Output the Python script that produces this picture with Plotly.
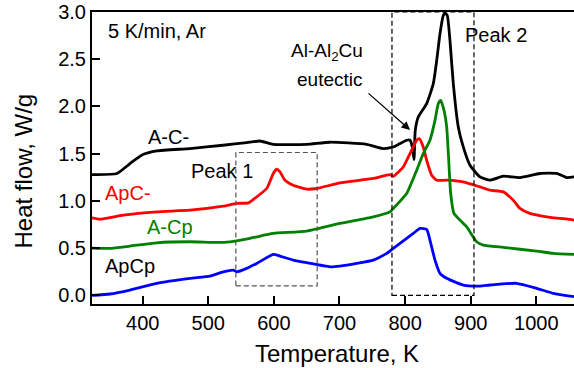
import plotly.graph_objects as go

# DSC traces, heat flow (W/g) vs temperature (K)
t_ac = [322.7, 360.8, 380.6, 400.4, 421.3, 472.1, 522.4, 558.5, 578.8, 599.1, 650.0, 685.5,
        741.4, 766.3, 782.0, 792.2, 802.4, 807.5, 811.0, 813.6, 815.5, 820.1, 832.9, 843.0,
        848.2, 853.2, 858.2, 860.8, 864.3, 868.4, 873.5, 881.1, 888.7, 898.9, 914.2, 929.4,
        949.7, 975.1, 1005.6, 1031.0, 1046.3, 1058.0]
hf_ac = [1.279, 1.290, 1.395, 1.490, 1.529, 1.554, 1.589, 1.617, 1.634, 1.599, 1.599, 1.621,
         1.599, 1.554, 1.571, 1.607, 1.642, 1.642, 1.571, 1.438, 1.747, 1.888, 2.030, 2.241,
         2.487, 2.770, 2.963, 2.987, 2.963, 2.699, 2.241, 1.782, 1.571, 1.377, 1.254, 1.219,
         1.261, 1.247, 1.290, 1.290, 1.247, 1.254]

t_apc = [322.7, 334.9, 370.4, 421.3, 472.1, 522.9, 543.3, 561.0, 568.6, 589.0, 599.1, 604.3,
         609.3, 616.9, 629.6, 650.0, 665.2, 700.7, 751.5, 777.0, 782.0, 797.2, 807.5, 817.7,
         821.6, 827.7, 832.9, 840.5, 848.2, 863.4, 888.7, 914.2, 929.4, 949.7, 964.9, 975.1,
         990.3, 1015.8, 1051.3, 1058.0]
hf_apc = [0.820, 0.807, 0.849, 0.884, 0.902, 0.944, 0.973, 0.979, 1.015, 1.131, 1.290, 1.335,
          1.307, 1.219, 1.166, 1.124, 1.131, 1.190, 1.237, 1.279, 1.261, 1.359, 1.501, 1.642,
          1.660, 1.571, 1.430, 1.272, 1.219, 1.219, 1.201, 1.148, 1.113, 1.095, 1.007, 0.920,
          0.867, 0.831, 0.803, 0.796]

t_acp = [322.7, 350.1, 380.6, 421.3, 472.1, 512.8, 533.1, 563.6, 573.8, 599.1, 650.0, 700.7,
         751.5, 777.0, 782.0, 802.4, 817.7, 827.7, 837.9, 845.6, 850.6, 854.3, 859.3, 863.4,
         866.5, 869.5, 874.5, 883.7, 893.9, 909.1, 919.2, 949.7, 1000.6, 1025.9, 1058.0]
hf_acp = [0.500, 0.497, 0.521, 0.556, 0.567, 0.560, 0.567, 0.603, 0.619, 0.655, 0.680, 0.761,
          0.831, 0.884, 0.920, 1.078, 1.325, 1.501, 1.642, 1.853, 2.030, 2.064, 1.959, 1.782,
          1.430, 1.078, 0.867, 0.796, 0.725, 0.567, 0.532, 0.507, 0.468, 0.444, 0.433]

t_apcp = [322.7, 350.1, 380.6, 421.3, 472.1, 502.6, 522.9, 538.1, 543.3, 558.5, 573.8, 599.1,
          609.3, 629.6, 650.0, 685.5, 700.7, 726.2, 751.5, 771.9, 782.0, 802.4, 812.5, 822.7,
          832.9, 837.9, 845.6, 853.2, 863.4, 888.7, 914.2, 929.4, 970.0, 1000.6, 1025.9, 1058.0]
hf_apcp = [0.000, 0.014, 0.056, 0.127, 0.180, 0.204, 0.249, 0.267, 0.249, 0.285, 0.338, 0.433,
           0.415, 0.373, 0.345, 0.302, 0.310, 0.338, 0.373, 0.444, 0.497, 0.603, 0.655, 0.708,
           0.698, 0.585, 0.373, 0.233, 0.180, 0.109, 0.098, 0.109, 0.127, 0.074, 0.021, -0.015]

x_ticks = [400, 500, 600, 700, 800, 900, 1000]
y_ticks = [0.0, 0.5, 1.0, 1.5, 2.0, 2.5, 3.0]

# Regions marked on the plot: (T_min, T_max, HF_min, HF_max)
peak1_box = (542, 666, 0.10, 1.512)
peak2_box = (780, 905, 0.0, 3.0)

FONT = "Liberation Sans, Arial, sans-serif"

fig = go.Figure()
series = [
    (t_ac, hf_ac, "black"),
    (t_apc, hf_apc, "#ff0000"),
    (t_acp, hf_acp, "#008000"),
    (t_apcp, hf_apcp, "#0000ff"),
]
for t, hf, col in series:
    fig.add_trace(go.Scatter(x=t, y=hf, mode="lines",
                             line=dict(color=col, width=2.8, shape="spline", smoothing=0.5),
                             showlegend=False))

fig.add_shape(type="rect", xref="x", yref="y",
              x0=peak1_box[0], x1=peak1_box[1], y0=peak1_box[2], y1=peak1_box[3],
              line=dict(color="#555555", width=1.2, dash="5px,3px"))
fig.add_shape(type="rect", xref="x", yref="y",
              x0=peak2_box[0], x1=peak2_box[1], y0=peak2_box[2], y1=peak2_box[3],
              line=dict(color="black", width=1.2, dash="5px,3px"))


def label(text, x, y, color="black", size=20):
    fig.add_annotation(text=text, xref="paper", yref="paper", x=x, y=y,
                       xanchor="left", yanchor="middle", showarrow=False,
                       font=dict(family=FONT, size=size, color=color))


label("5 K/min, Ar", 0.029, 0.935)
label("Peak 2", 0.770, 0.921)
label("A-C-", 0.113, 0.573)
label("Peak 1", 0.201, 0.4565)
label("ApC-", 0.023, 0.379, color="#ff0000")
label("A-Cp", 0.109, 0.265, color="#008000")
label("ApCp", 0.023, 0.130)

fig.add_annotation(text="Al-Al<sub>2</sub>Cu", xref="paper", yref="paper",
                   x=(327 - 92) / 482, y=(304 - 51.7) / 292, xanchor="center",
                   yanchor="middle", showarrow=False,
                   font=dict(family=FONT, size=19, color="black"))
fig.add_annotation(text="eutectic", xref="paper", yref="paper",
                   x=(329 - 92) / 482, y=(304 - 79.3) / 292, xanchor="center",
                   yanchor="middle", showarrow=False,
                   font=dict(family=FONT, size=19, color="black"))
# arrow toward the eutectic dip on A-C-
fig.add_annotation(text="", x=807.5, y=1.75, xref="x", yref="y", showarrow=True,
                   ax=-43, ay=-38, arrowhead=2, arrowsize=1.3, arrowwidth=1.3,
                   arrowcolor="black")

# axis titles
fig.add_annotation(text="Heat flow, W/g", xref="paper", yref="paper",
                   x=(22.5 - 92) / 482, y=(304 - 171) / 292, textangle=-90,
                   xanchor="center", yanchor="middle", showarrow=False,
                   font=dict(family=FONT, size=24, color="black"))
fig.add_annotation(text="Temperature, K", xref="paper", yref="paper",
                   x=(336.7 - 92) / 482, y=(304 - 353) / 292,
                   xanchor="center", yanchor="middle", showarrow=False,
                   font=dict(family=FONT, size=24, color="black"))

fig.update_layout(
    width=574, height=368,
    margin=dict(l=92, r=0, t=12, b=64),
    plot_bgcolor="white", paper_bgcolor="white",
    font=dict(family=FONT, size=20, color="black"),
    xaxis=dict(range=[322.7, 1057.5], tickvals=x_ticks, ticks="inside", ticklen=8,
               tickwidth=1.5, tickcolor="black", showline=True, linecolor="black",
               linewidth=2, mirror=True, showgrid=False, zeroline=False,
               tickfont=dict(size=20)),
    yaxis=dict(range=[-0.092, 3.0], tickvals=y_ticks, tickformat=".1f", ticks="inside",
               ticklen=8, tickwidth=1.5, tickcolor="black", showline=True,
               linecolor="black", linewidth=2, showgrid=False, zeroline=False,
               tickfont=dict(size=20)),
)

fig.write_html("out.html")
